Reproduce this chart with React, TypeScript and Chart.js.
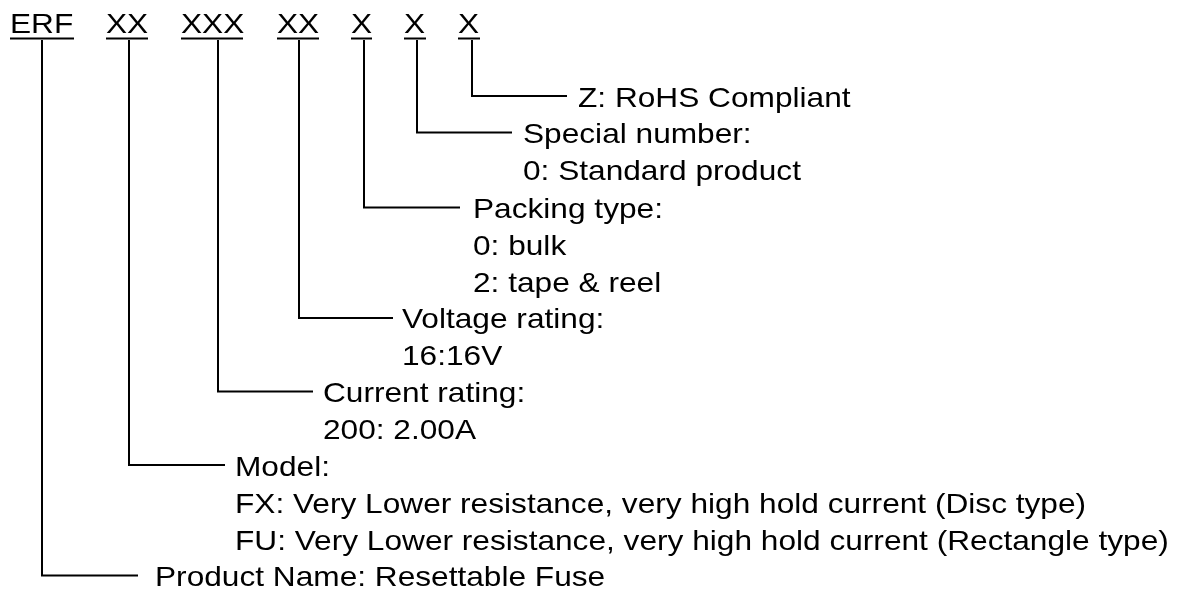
import React, { useEffect, useRef } from "react";
import { Chart, registerables } from "chart.js";

Chart.register(...registerables);

// ---- header codes ----
const codeLabels = ["ERF", "XX", "XXX", "XX", "X", "X", "X"];
const codeStartX = [10, 106, 181, 277, 351, 404, 458];
const codeEndX = [74, 148, 243, 319, 372, 426, 480];
const codeBaselineY = 33.3;
const underlineY = 38.5;

// ---- branches (one per code) ----
const branchX = [42, 129, 218, 299, 364, 417, 472];
const branchTopY = 40;
const branchY = [575.5, 465, 391.5, 318, 207.5, 132.5, 96];
const branchEndX = [138, 225, 313, 393, 460, 512, 567];

// ---- descriptions ----
const descX = [155, 235, 323, 402, 473, 523, 578];
const descFirstBaseline = [586, 476, 401.7, 328, 218, 143, 106.5];
const descLines: string[][] = [
  ["Product Name: Resettable Fuse"],
  [
    "Model:",
    "FX: Very Lower resistance, very high hold current (Disc type)",
    "FU: Very Lower resistance, very high hold current (Rectangle type)",
  ],
  ["Current rating:", "200: 2.00A"],
  ["Voltage rating:", "16:16V"],
  ["Packing type:", "0: bulk", "2: tape & reel"],
  ["Special number:", "0: Standard product"],
  ["Z: RoHS Compliant"],
];
const lineStep = 36.8;

const W = 1187;
const H = 590;
const FONT = '28px "Liberation Sans", Arial, sans-serif';
const SCALE_X = 1.13;

export default function App() {
  const ref = useRef<HTMLCanvasElement | null>(null);

  useEffect(() => {
    if (!ref.current) return;

    const datasets: any[] = [];
    codeLabels.forEach((_, i) => {
      datasets.push({
        data: [
          { x: codeStartX[i], y: underlineY },
          { x: codeEndX[i], y: underlineY },
        ],
      });
      datasets.push({
        data: [
          { x: branchX[i], y: branchTopY },
          { x: branchX[i], y: branchY[i] },
          { x: branchEndX[i], y: branchY[i] },
        ],
      });
    });
    datasets.forEach((d) => {
      d.showLine = true;
      d.borderColor = "#000";
      d.borderWidth = 2;
      d.pointRadius = 0;
      d.fill = false;
      d.tension = 0;
      d.borderJoinStyle = "miter";
      d.borderCapStyle = "butt";
    });

    const textPlugin = {
      id: "texts",
      afterDatasetsDraw(chart: any) {
        const ctx = chart.ctx as CanvasRenderingContext2D;
        const xs = chart.scales.x;
        const ys = chart.scales.y;
        const draw = (t: string, x: number, y: number) => {
          ctx.save();
          ctx.translate(xs.getPixelForValue(x), ys.getPixelForValue(y));
          ctx.scale(SCALE_X, 1);
          ctx.fillText(t, 0, 0);
          ctx.restore();
        };
        ctx.save();
        ctx.font = FONT;
        ctx.fillStyle = "#000";
        ctx.textAlign = "left";
        ctx.textBaseline = "alphabetic";
        codeLabels.forEach((c, i) => draw(c, codeStartX[i], codeBaselineY));
        descLines.forEach((lines, i) => {
          lines.forEach((t, j) =>
            draw(t, descX[i], descFirstBaseline[i] + j * lineStep)
          );
        });
        ctx.restore();
      },
    };

    const chart = new Chart(ref.current, {
      type: "scatter",
      data: { datasets },
      options: {
        animation: false,
        responsive: false,
        layout: { padding: 0 },
        plugins: {
          legend: { display: false },
          tooltip: { enabled: false },
          title: { display: false },
        },
        scales: {
          x: { type: "linear", min: 0, max: W, display: false },
          y: { type: "linear", min: 0, max: H, reverse: true, display: false },
        },
      },
      plugins: [textPlugin],
    });
    return () => chart.destroy();
  }, []);

  return (
    <div
      style={{
        position: "absolute",
        left: 0,
        top: 0,
        width: W,
        height: H,
        background: "#fff",
      }}
    >
      <canvas ref={ref} width={W} height={H} style={{ display: "block" }} />
    </div>
  );
}
